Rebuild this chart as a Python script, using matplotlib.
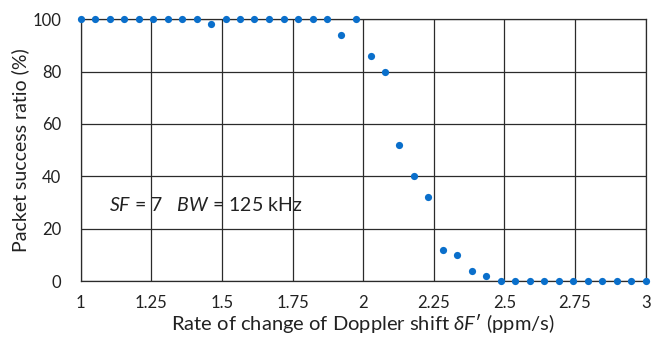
import matplotlib.pyplot as plt

plt.rcParams['font.family'] = ['Lato', 'DejaVu Sans']
plt.rcParams['mathtext.fontset'] = 'custom'
plt.rcParams['mathtext.it'] = 'Lato:italic'
plt.rcParams['mathtext.rm'] = 'Lato'

# Doppler rate (ppm/s) and measured packet success ratio (%)
rate = [1.000, 1.051, 1.103, 1.154, 1.205, 1.256, 1.308, 1.359, 1.410, 1.462,
        1.513, 1.564, 1.615, 1.667, 1.718, 1.769, 1.821, 1.872, 1.923, 1.974,
        2.026, 2.077, 2.128, 2.179, 2.231, 2.282, 2.333, 2.385, 2.436, 2.487,
        2.538, 2.590, 2.641, 2.692, 2.744, 2.795, 2.846, 2.897, 2.949, 3.000]
psr = [100, 100, 100, 100, 100, 100, 100, 100, 100, 98,
       100, 100, 100, 100, 100, 100, 100, 100, 94, 100,
       86, 80, 52, 40, 32, 12, 10, 4, 2, 0,
       0, 0, 0, 0, 0, 0, 0, 0, 0, 0]

xticks = [1, 1.25, 1.5, 1.75, 2, 2.25, 2.5, 2.75, 3]
xticklabels = ['1', '1.25', '1.5', '1.75', '2', '2.25', '2.5', '2.75', '3']
yticks = [0, 20, 40, 60, 80, 100]

fig = plt.figure(figsize=(6.67, 3.42), dpi=100)
ax = fig.add_axes([0.121, 0.178, 0.847, 0.766])

ax.scatter(rate, psr, s=27, color='#0A6FCB', zorder=3, clip_on=False, linewidths=0)

ax.set_xlim(1, 3)
ax.set_ylim(0, 100)
ax.set_xticks(xticks)
ax.set_xticklabels(xticklabels)
ax.set_yticks(yticks)
ax.grid(True, color='#2b2b2b', linewidth=0.9)
ax.set_axisbelow(True)
for s in ax.spines.values():
    s.set_color('#2b2b2b')
    s.set_linewidth(0.9)
ax.tick_params(length=0, labelsize=12, colors='#222222')
ax.tick_params(axis='x', pad=10)
ax.tick_params(axis='y', pad=14)

ax.set_xlabel("Rate of change of Doppler shift $\\delta F$\u2032 (ppm/s)", fontsize=14.5,
              color='#222222', labelpad=1)
ax.set_ylabel('Packet success ratio (%)', fontsize=14, color='#222222', labelpad=2)

ax.text(1.1, 29, '$SF$ = 7   $BW$ = 125 kHz', fontsize=14, color='#222222', va='center')

fig.savefig('out.png', dpi=100)
